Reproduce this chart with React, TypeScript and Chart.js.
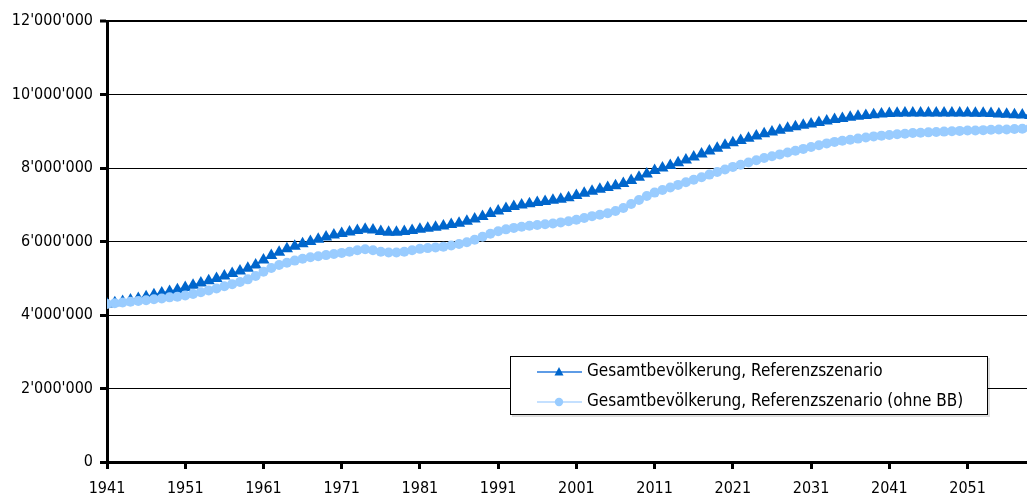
import { useEffect, useRef } from "react";
import { Chart, registerables } from "chart.js";

Chart.register(...registerables);

// Population in millions, one value per year starting 1941
const FIRST_YEAR = 1941;
const MIO = 1000000;

const REFERENZ_MIO = [
  4.30, 4.33, 4.37, 4.41, 4.45, 4.50, 4.55, 4.60, 4.64, 4.69,
  4.75, 4.81, 4.87, 4.93, 4.99, 5.06, 5.13, 5.20, 5.27, 5.36,
  5.50, 5.62, 5.71, 5.80, 5.87, 5.94, 6.00, 6.06, 6.12, 6.18,
  6.22, 6.26, 6.30, 6.33, 6.31, 6.27, 6.25, 6.25, 6.27, 6.30,
  6.33, 6.36, 6.39, 6.42, 6.46, 6.50, 6.55, 6.61, 6.68, 6.76,
  6.83, 6.90, 6.95, 6.99, 7.03, 7.06, 7.09, 7.12, 7.15, 7.19,
  7.25, 7.31, 7.37, 7.42, 7.47, 7.52, 7.58, 7.66, 7.75, 7.84,
  7.93, 8.00, 8.07, 8.14, 8.22, 8.30, 8.38, 8.46, 8.54, 8.62,
  8.69, 8.75, 8.81, 8.87, 8.93, 8.98, 9.03, 9.08, 9.12, 9.16,
  9.20, 9.24, 9.28, 9.32, 9.35, 9.38, 9.41, 9.43, 9.45, 9.47,
  9.48, 9.49, 9.50, 9.50, 9.50, 9.50, 9.50, 9.50, 9.50, 9.50,
  9.50, 9.49, 9.49, 9.48, 9.47, 9.46, 9.45, 9.44, 9.43,
];

const OHNE_BB_MIO = [
  4.30, 4.32, 4.34, 4.36, 4.38, 4.40, 4.43, 4.45, 4.48, 4.50,
  4.53, 4.57, 4.62, 4.67, 4.72, 4.78, 4.84, 4.90, 4.97, 5.06,
  5.18, 5.28, 5.36, 5.42, 5.48, 5.53, 5.57, 5.60, 5.63, 5.66,
  5.69, 5.72, 5.76, 5.79, 5.76, 5.72, 5.70, 5.70, 5.72, 5.76,
  5.80, 5.82, 5.84, 5.86, 5.89, 5.93, 5.98, 6.05, 6.13, 6.21,
  6.28, 6.33, 6.37, 6.40, 6.43, 6.45, 6.47, 6.49, 6.52, 6.55,
  6.59, 6.64, 6.69, 6.73, 6.77, 6.83, 6.91, 7.02, 7.13, 7.24,
  7.33, 7.40, 7.47, 7.54, 7.61, 7.68, 7.75, 7.82, 7.89, 7.96,
  8.03, 8.09, 8.15, 8.21, 8.27, 8.32, 8.37, 8.42, 8.47, 8.52,
  8.57, 8.62, 8.67, 8.71, 8.74, 8.77, 8.80, 8.83, 8.86, 8.88,
  8.90, 8.92, 8.93, 8.95, 8.96, 8.97, 8.98, 8.99, 9.00, 9.01,
  9.02, 9.02, 9.03, 9.04, 9.05, 9.05, 9.06, 9.07, 9.08,
];

const YEARS = REFERENZ_MIO.map((_, i) => FIRST_YEAR + i);

const X_TICK_YEARS = [1941, 1951, 1961, 1971, 1981, 1991, 2001, 2011, 2021, 2031, 2041, 2051];
const X_MIN = 1941;
const X_MAX = 2058.6;

const Y_TICKS = [0, 2000000, 4000000, 6000000, 8000000, 10000000, 12000000];

const SERIES_LABELS = [
  "Gesamtbevölkerung, Referenzszenario",
  "Gesamtbevölkerung, Referenzszenario (ohne BB)",
];

const FONT = "'DejaVu Sans Condensed', 'DejaVu Sans', sans-serif";

const DARK_BLUE = "#0066CC";
const DARK_LINE = "#5E9CE6";
const LIGHT_BLUE = "#99CCFF";
const LIGHT_LINE = "#B0D6FF";

function fmtSwiss(v: number): string {
  return String(Math.round(v)).replace(/\B(?=(\d{3})+(?!\d))/g, "'");
}

const boxLegend = {
  id: "boxLegend",
  afterDraw(chart: any) {
    const ctx = chart.ctx as CanvasRenderingContext2D;
    const x = 510;
    const y = 356;
    const w = 477;
    const h = 58;
    ctx.save();
    ctx.fillStyle = "rgba(0,0,0,0.13)";
    ctx.fillRect(x + 2, y + 2, w + 1, h + 1);
    ctx.fillStyle = "#ffffff";
    ctx.fillRect(x, y, w, h);
    ctx.strokeStyle = "#000000";
    ctx.lineWidth = 1;
    ctx.strokeRect(x + 0.5, y + 0.5, w, h);
    chart.data.datasets.forEach((ds: any, i: number) => {
      const cy = y + 16 + i * 30;
      ctx.strokeStyle = ds.borderColor;
      ctx.lineWidth = i === 0 ? 2 : 1.5;
      ctx.beginPath();
      ctx.moveTo(x + 27, cy);
      ctx.lineTo(x + 72, cy);
      ctx.stroke();
      const mx = x + 49;
      ctx.fillStyle = ds.pointBackgroundColor;
      ctx.beginPath();
      if (i === 0) {
        ctx.moveTo(mx, cy - 5);
        ctx.lineTo(mx + 4.5, cy + 3.5);
        ctx.lineTo(mx - 4.5, cy + 3.5);
        ctx.closePath();
      } else {
        ctx.arc(mx, cy, 4.2, 0, Math.PI * 2);
      }
      ctx.fill();
      ctx.fillStyle = "#000000";
      ctx.font = `17px ${FONT}`;
      ctx.textBaseline = "middle";
      ctx.textAlign = "left";
      ctx.fillText(ds.label, x + 77, cy);
    });
    ctx.restore();
  },
};

export default function App() {
  const canvasRef = useRef<HTMLCanvasElement | null>(null);

  useEffect(() => {
    if (!canvasRef.current) return;
    const chart = new Chart(canvasRef.current, {
      type: "line",
      data: {
        datasets: [
          {
            label: SERIES_LABELS[0],
            data: YEARS.map((yr, i) => ({ x: yr, y: REFERENZ_MIO[i] * MIO })),
            borderColor: DARK_LINE,
            borderWidth: 2,
            pointStyle: "triangle",
            pointRadius: 7,
            pointBackgroundColor: DARK_BLUE,
            pointBorderColor: DARK_BLUE,
            pointBorderWidth: 0,
            tension: 0,
            order: 1,
          },
          {
            label: SERIES_LABELS[1],
            data: YEARS.map((yr, i) => ({ x: yr, y: OHNE_BB_MIO[i] * MIO })),
            borderColor: LIGHT_LINE,
            borderWidth: 1.5,
            pointStyle: "circle",
            pointRadius: 5,
            pointBackgroundColor: LIGHT_BLUE,
            pointBorderColor: LIGHT_BLUE,
            pointBorderWidth: 0,
            tension: 0,
            order: 0,
          },
        ],
      },
      options: {
        animation: false,
        responsive: true,
        maintainAspectRatio: false,
        layout: { autoPadding: false, padding: { top: 21, left: 0, right: 0, bottom: 0 } },
        plugins: {
          legend: { display: false },
          tooltip: { enabled: false },
        },
        scales: {
          x: {
            type: "linear",
            min: X_MIN,
            max: X_MAX,
            afterBuildTicks: (scale: any) => {
              scale.ticks = X_TICK_YEARS.map((v) => ({ value: v }));
            },
            afterFit: (scale: any) => {
              scale.height = 34;
              scale.paddingLeft = 0;
              scale.paddingRight = 0;
            },
            ticks: {
              autoSkip: false,
              maxRotation: 0,
              padding: 10,
              color: "#000000",
              font: { family: FONT, size: 16 },
              callback: (v: any) => String(v),
            },
            grid: {
              drawOnChartArea: false,
              drawTicks: true,
              tickLength: 7,
              tickWidth: 3,
              tickColor: "#000000",
            },
            border: { display: true, color: "#000000", width: 3 },
          },
          y: {
            type: "linear",
            min: 0,
            max: 12000000,
            afterBuildTicks: (scale: any) => {
              scale.ticks = Y_TICKS.map((v) => ({ value: v }));
            },
            afterFit: (scale: any) => {
              scale.width = 107;
            },
            ticks: {
              padding: 7,
              color: "#000000",
              font: { family: FONT, size: 16 },
              callback: (v: any) => fmtSwiss(Number(v)),
            },
            grid: {
              color: "#000000",
              lineWidth: (c: any) => (c.index === Y_TICKS.length - 1 ? 2 : 1),
              drawTicks: true,
              tickLength: 7,
              tickWidth: 3,
              tickColor: "#000000",
            },
            border: { display: true, color: "#000000", width: 3 },
          },
        },
      },
      plugins: [boxLegend],
    });
    return () => chart.destroy();
  }, []);

  return (
    <div style={{ position: "fixed", left: 0, top: 0, width: 1027, height: 496, background: "#ffffff" }}>
      <canvas ref={canvasRef} />
    </div>
  );
}
